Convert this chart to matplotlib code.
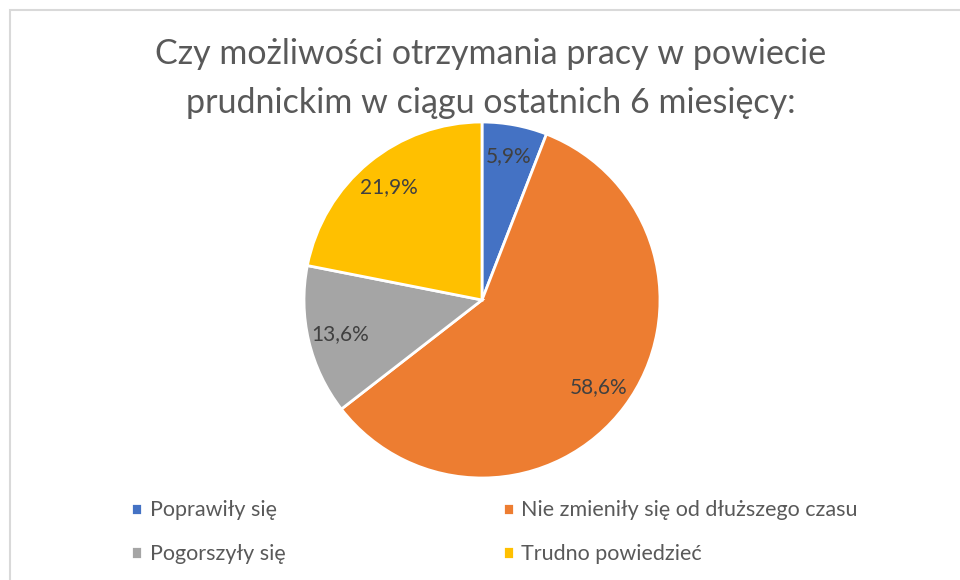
import matplotlib
matplotlib.use("Agg")
from matplotlib import pyplot as plt
from matplotlib.patches import Rectangle

plt.rcParams["font.family"] = ["Lato", "DejaVu Sans"]

# survey answers and their shares (%)
labels = ["Poprawiły się", "Nie zmieniły się od dłuższego czasu",
          "Pogorszyły się", "Trudno powiedzieć"]
shares = [5.9, 58.6, 13.6, 21.9]
colors = ["#4472C4", "#ED7D31", "#A5A5A5", "#FFC000"]
title = "Czy możliwości otrzymania pracy w powiecie\nprudnickim w ciągu ostatnich 6 miesięcy:"

W, H = 960, 580
fig = plt.figure(figsize=(W / 100, H / 100), dpi=100)

# thin grey chart frame
fig.patches.append(Rectangle((10 / W, -0.1), 1.2, 1 - 10 / H + 0.1,
                             transform=fig.transFigure, fill=False,
                             edgecolor="#D9D9D9", linewidth=1.5))

cx, cy, r = 482, 300, 178
ax = fig.add_axes([(cx - r) / W, (H - cy - r) / H, 2 * r / W, 2 * r / H])
wedges, _, autotexts = ax.pie(
    shares, colors=colors, startangle=90, counterclock=False,
    autopct=lambda p: f"{p:.1f}".replace(".", ",") + "%",
    pctdistance=0.82,
    wedgeprops=dict(edgecolor="white", linewidth=2),
    textprops=dict(color="#404040", fontsize=15))
ax.set_xlim(-1, 1)
ax.set_ylim(-1, 1)
ax.set_aspect("equal")

fig.text(491 / W, 1 - 38 / H, title, ha="center", va="top",
         fontsize=24.5, color="#595959", linespacing=1.65)

# legend laid out in two columns, row by row
order = [0, 2, 1, 3]
fig.legend([wedges[i] for i in order], [labels[i] for i in order],
           ncol=2, loc="upper left", bbox_to_anchor=(112 / W, 1 - 481 / H),
           frameon=False, fontsize=15.5, labelcolor="#595959",
           handlelength=0.5, handleheight=0.5, handletextpad=0.35,
           columnspacing=10.1, labelspacing=1.1)

fig.savefig("out.png", dpi=100)
